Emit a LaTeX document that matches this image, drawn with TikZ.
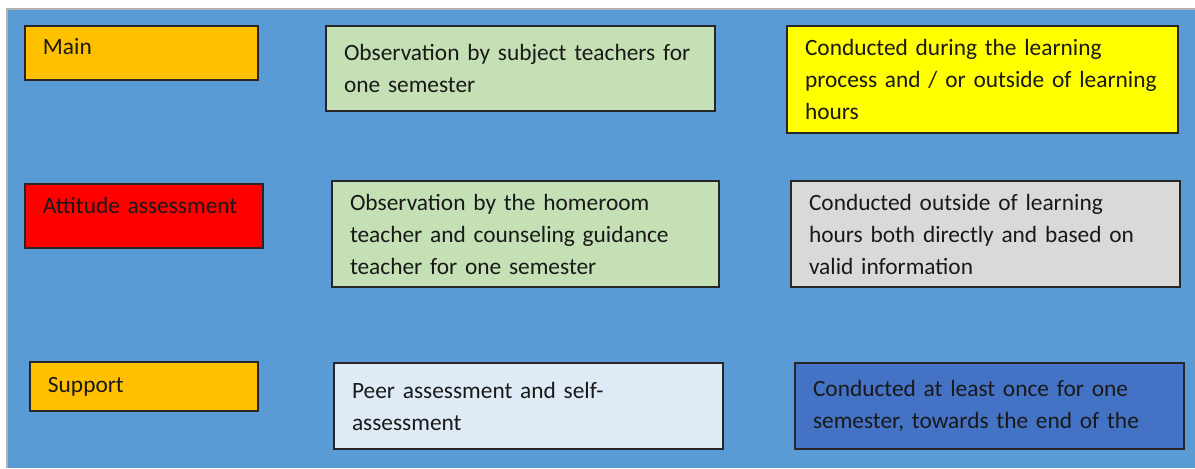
\documentclass[tikz,border=0pt]{standalone}
\usepackage{fontspec}
\setmainfont{Carlito}
\usepackage{xcolor}
\usetikzlibrary{positioning}
\hyphenpenalty=10000
\definecolor{panelblue}{HTML}{5B9BD5}
\definecolor{headorange}{HTML}{FFC000}
\definecolor{headred}{HTML}{FF0000}
\definecolor{cellgreen}{HTML}{C5E0B4}
\definecolor{cellyellow}{HTML}{FFFF00}
\definecolor{cellgray}{HTML}{D9D9D9}
\definecolor{cellpale}{HTML}{DEEBF7}
\definecolor{cellblue}{HTML}{4472C4}
\tikzset{
     cell/.style={draw=black!85, line width=1.1pt, anchor=north west, align=left,
        inner xsep=0.36cm, inner ysep=0.1cm, outer sep=0pt,
        font=\fontsize{13.3}{16}\selectfont, text=black!90},
     head/.style={cell, fill=#1},
     wide/.style={cell, fill=#1, minimum width=7.78cm, text width=7.06cm},
    }

\begin{document}
\begin{tikzpicture}[x=0.02cm, y=-0.02cm]
        \useasboundingbox (0,0) rectangle (1195,468);
        \fill[panelblue] (7,9) rectangle (1195,468);
        \draw[gray!60, line width=0.6pt] (7,468) -- (7,9) -- (1195,9);

        % left column
        \node [head=headorange, minimum width=4.66cm, text width=3.94cm, minimum height=1.08cm, text depth=0.26cm] (main) at (25,26) {Main};
        \node [head=headred, minimum width=4.76cm, text width=4.04cm, minimum height=1.28cm, text depth=0.42cm] (attitude) at (25,184) {Attitude assessment};
        \node [head=headorange, minimum width=4.56cm, text width=3.84cm, minimum height=0.98cm] (support) at (30,362) {Support};

        % middle column
        \node [wide=cellgreen, minimum height=1.70cm] (subject) at (326,26)
            {Observation by subject teachers for\\[2.2pt]one semester};
        \node [wide=cellgreen, minimum width=7.74cm, text width=7.02cm, minimum height=2.12cm] (homeroom) at (332,181)
            {Observation by the homeroom\\[2.2pt]teacher and counseling guidance\\[2.2pt]teacher for one semester};
        \node [wide=cellpale, minimum height=1.72cm] (peer) at (334,363)
            {Peer assessment and self-\\[2.2pt]assessment};

        % right column
        \node [wide=cellyellow, minimum width=7.82cm, text width=7.10cm, minimum height=2.14cm] (during) at (787,26)
            {Conducted during the learning\\[2.2pt]process and / or outside of learning\\[2.2pt]hours};
        \node [wide=cellgray, minimum height=2.12cm] (outside) at (791,181)
            {Conducted outside of learning\\[2.2pt]hours both directly and based on\\[2.2pt]valid information};
        \node [wide=cellblue, minimum height=1.72cm] (least) at (795,363)
            {Conducted at least once for one\\[2.2pt]semester, towards the end of the};
    \end{tikzpicture}
\end{document}
